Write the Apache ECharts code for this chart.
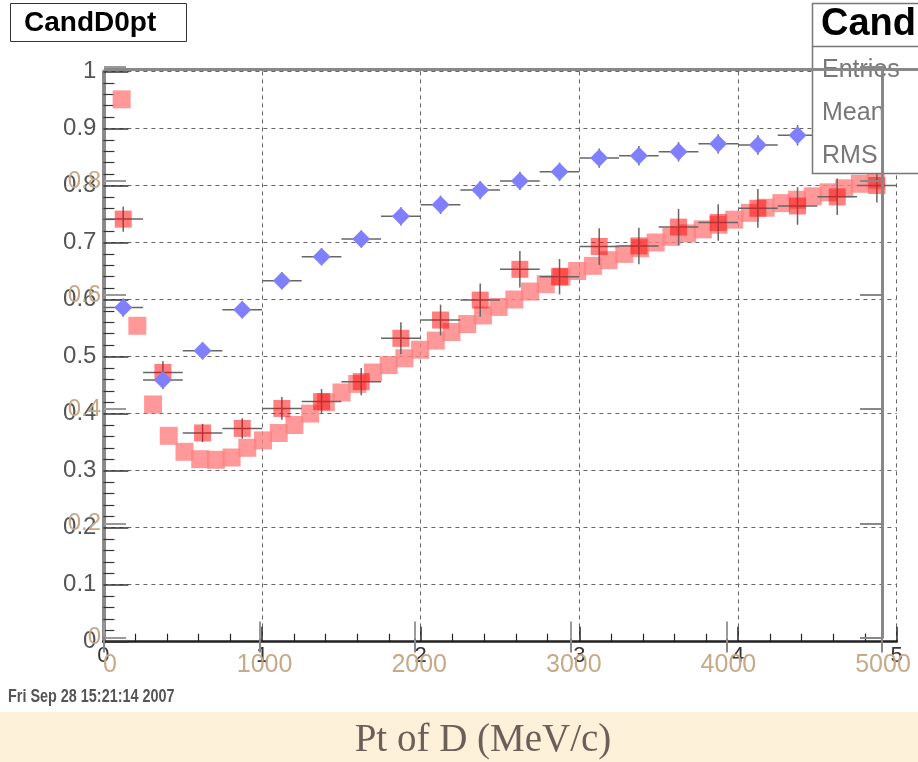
<!DOCTYPE html>
<html><head><meta charset="utf-8">
<script src="https://cdn.jsdelivr.net/npm/echarts@6/dist/echarts.min.js"></script>
<style>html,body{margin:0;padding:0;background:#fff}#c{width:918px;height:762px}</style>
</head><body><div id="c"></div>
<script>
// ---- data ----
const binCenters = [125,375,625,875,1125,1375,1625,1875,2125,2375,2625,2875,3125,3375,3625,3875,4125,4375,4625,4875];
const binHalfWidth = 125;
const blueY   = [0.586,0.459,0.510,0.582,0.633,0.675,0.706,0.746,0.766,0.792,0.808,0.824,0.848,0.852,0.859,0.873,0.871,0.888,0.893,0.900];
const blueErr = [0.016,0.016,0.015,0.015,0.015,0.015,0.015,0.016,0.016,0.016,0.016,0.016,0.017,0.017,0.017,0.017,0.017,0.018,0.018,0.018];
const redY    = [0.741,0.472,0.366,0.374,0.409,0.421,0.456,0.532,0.564,0.599,0.653,0.640,0.693,0.694,0.727,0.735,0.760,0.764,0.780,0.800];
const redErr  = [0.022,0.020,0.016,0.018,0.020,0.022,0.024,0.028,0.027,0.029,0.032,0.031,0.032,0.032,0.032,0.032,0.034,0.033,0.032,0.030];
const fineX = [115,214,313,412,511,610,709,808,907,1006,1105,1204,1303,1402,1501,1600,1699,1798,1897,1996,2095,2194,2293,2392,2491,2590,2689,2788,2887,2986,3085,3184,3283,3382,3481,3580,3679,3778,3877,3976,4075,4174,4273,4372,4471,4570,4669,4768,4867];
const fineY = [0.951,0.554,0.416,0.361,0.333,0.320,0.319,0.323,0.340,0.353,0.366,0.380,0.400,0.420,0.437,0.452,0.472,0.485,0.497,0.512,0.528,0.543,0.557,0.572,0.587,0.600,0.614,0.627,0.640,0.650,0.659,0.669,0.680,0.690,0.700,0.710,0.716,0.723,0.731,0.740,0.752,0.761,0.769,0.775,0.781,0.788,0.795,0.803,0.810];
const xTickLabels = ['0','1','2','3','4','5'];
const titleText = 'CandD0pt';
const statTitle = 'Cand';
const statRows = ['Entries','Mean','RMS'];
const dateText = 'Fri Sep 28 15:21:14 2007';
const xTitle = 'Pt of D (MeV/c)';

// ---- chart ----
const chart = echarts.init(document.getElementById('c'), null, {renderer:'canvas'});
const tan = '#c6aa88';
const ghostLabel = {color: tan, textShadowColor:'rgba(120,165,230,0.7)', textShadowOffsetX:1.5, textShadowBlur:0};
const errColor = '#666666';

function makeErrRender(markerKind){
  return function(params, api){
    const x = api.value(0), y = api.value(1), e = api.value(2);
    const c = api.coord([x, y]);
    const pL = api.coord([x - binHalfWidth, y]), pR = api.coord([x + binHalfWidth, y]);
    const pT = api.coord([x, y + e]), pB = api.coord([x, y - e]);
    const children = [
      {type:'line', shape:{x1:pL[0],y1:pL[1],x2:pR[0],y2:pR[1]}, style:{stroke:errColor,lineWidth:1.5}},
      {type:'line', shape:{x1:pT[0],y1:pT[1],x2:pB[0],y2:pB[1]}, style:{stroke:errColor,lineWidth:1.5}}
    ];
    if (markerKind === 'diamond') {
      const h = 9;
      children.push({type:'polygon', shape:{points:[[c[0],c[1]-h],[c[0]+h,c[1]],[c[0],c[1]+h],[c[0]-h,c[1]]]},
        style:{fill:'#8080ff'}});
    } else {
      const s = 8.5;
      children.push({type:'rect', shape:{x:c[0]-s, y:c[1]-s, width:2*s, height:2*s},
        style:{fill:'rgba(255,0,0,0.5)'}});
    }
    return {type:'group', children};
  };
}

const option = {
  animation:false,
  backgroundColor:'#ffffff',
  grid:[
    {left:103.4, top:71.4, width:793.3, height:570.3, outerBoundsMode:'none'},
    {left:104, top:66.9, width:778, height:570.5, outerBoundsMode:'none'},
    {left:110, top:71.4, width:773, height:570.3, outerBoundsMode:'none'}
  ],
  xAxis:[
    {gridIndex:0, type:'value', min:0, max:5000, interval:1000, position:'bottom',
     axisLine:{show:true, onZero:false, lineStyle:{color:'#222', width:2.5}},
     axisTick:{show:true, inside:true, length:15, lineStyle:{color:'#222', width:1.5}},
     minorTick:{show:true, splitNumber:5, length:8, lineStyle:{color:'#222', width:1.2}},
     axisLabel:{show:true, margin:3, fontSize:22, fontFamily:'Liberation Sans', color:'#333',
       formatter:(v)=>xTickLabels[Math.round(v/1000)]},
     splitLine:{show:true, lineStyle:{color:'#666', type:[4,4], width:1}}},
    {gridIndex:1, type:'value', min:0, max:5, interval:1, position:'bottom',
     axisLine:{show:false}, axisTick:{show:true, inside:true, length:16, lineStyle:{color:'#9a9a9a', width:2}},
     axisLabel:{show:false}, splitLine:{show:false}},
    {gridIndex:1, type:'value', min:0, max:5, interval:1, position:'top', z:60,
     axisLine:{show:false}, axisTick:{show:true, inside:true, length:15, lineStyle:{color:'#888', width:2}},
     axisLabel:{show:false}, splitLine:{show:false}},
    {gridIndex:2, type:'value', min:0, max:5000, interval:1000, position:'bottom',
     axisLine:{show:false}, axisTick:{show:false},
     axisLabel:Object.assign({show:true, margin:11, fontSize:25, fontFamily:'Liberation Sans',
       formatter:(v)=>String(v)}, ghostLabel),
     splitLine:{show:false}}
  ],
  yAxis:[
    {gridIndex:0, type:'value', min:0, max:1, interval:0.1,
     axisLine:{show:true, onZero:false, lineStyle:{color:'#8a8a8a', width:4}},
     axisTick:{show:true, inside:true, length:25, lineStyle:{color:'#333', width:1.5}},
     minorTick:{show:true, splitNumber:5, length:11, lineStyle:{color:'#333', width:1.2}},
     axisLabel:{show:true, margin:7, fontSize:24, fontFamily:'Liberation Sans', color:'#555',
       formatter:(v)=>String(+v.toFixed(1))},
     splitLine:{show:true, lineStyle:{color:'#666', type:[4,4], width:1}}},
    {gridIndex:1, type:'value', min:0, max:1, interval:0.2, position:'left',
     axisLine:{show:false}, axisTick:{show:true, inside:true, length:22, lineStyle:{color:'#9a9a9a', width:2}},
     axisLabel:Object.assign({show:true, margin:3, fontSize:24, fontFamily:'Liberation Sans',
       formatter:(v)=> v>=0.99 ? '' : String(+v.toFixed(1))}, ghostLabel),
     splitLine:{show:false}},
    {gridIndex:1, type:'value', min:0, max:1, interval:0.2, position:'right', z:60,
     axisLine:{show:true, onZero:false, lineStyle:{color:'#888', width:3}},
     axisTick:{show:true, inside:true, length:22, lineStyle:{color:'#888', width:2}},
     axisLabel:{show:false}, splitLine:{show:false}},
    {gridIndex:2, type:'value', min:0, max:1, show:false}
  ],
  series:[
    {type:'scatter', xAxisIndex:0, yAxisIndex:0, z:2, silent:true,
     symbol:'rect', symbolSize:18, itemStyle:{color:'#ff8080'},
     data: fineX.map((x,i)=>[x, fineY[i]])},
    {type:'custom', xAxisIndex:0, yAxisIndex:0, z:4, silent:true, renderItem:makeErrRender('square'),
     data: binCenters.map((x,i)=>[x, redY[i], redErr[i]])},
    {type:'custom', xAxisIndex:0, yAxisIndex:0, z:6, silent:true, renderItem:makeErrRender('diamond'),
     data: binCenters.map((x,i)=>[x, blueY[i], blueErr[i]])}
  ],
  graphic:[
    {type:'rect', z:1, shape:{x:0, y:712, width:918, height:50}, style:{fill:'#fdf1da'}},
    {type:'text', z:2, x:483, y:741, style:{text:xTitle, fontFamily:'Liberation Serif', fontSize:39, fill:'#6a6058', align:'center', verticalAlign:'middle'}},
    {type:'text', z:2, x:8, y:697, scaleX:0.8, style:{text:dateText, fontFamily:'Liberation Sans', fontWeight:'bold', fontSize:18, fill:'#555', align:'left', verticalAlign:'middle'}},
    {type:'rect', z:50, shape:{x:10.5, y:3.5, width:176, height:38}, style:{fill:'#fff', stroke:'#333', lineWidth:1}},
    {type:'text', z:51, x:24, y:23, style:{text:titleText, fontFamily:'Liberation Sans', fontWeight:'bold', fontSize:28, fill:'#000', align:'left', verticalAlign:'middle'}},
    {type:'rect', z:50, shape:{x:812.5, y:3.5, width:120, height:170}, style:{fill:'#fff', stroke:'#777', lineWidth:1.5}},
    {type:'line', z:51, shape:{x1:812, y1:46.5, x2:918, y2:46.5}, style:{stroke:'#777', lineWidth:1.5}},
    {type:'text', z:51, x:821, y:25, style:{text:statTitle, fontFamily:'Liberation Sans', fontWeight:'bold', fontSize:38, fill:'#000', align:'left', verticalAlign:'middle'}},
    {type:'text', z:51, x:822, y:70, style:{text:statRows[0], fontFamily:'Liberation Sans', fontSize:25, fill:'#777', align:'left', verticalAlign:'middle'}},
    {type:'text', z:51, x:822, y:113, style:{text:statRows[1], fontFamily:'Liberation Sans', fontSize:25, fill:'#777', align:'left', verticalAlign:'middle'}},
    {type:'text', z:51, x:822, y:156, style:{text:statRows[2], fontFamily:'Liberation Sans', fontSize:25, fill:'#777', align:'left', verticalAlign:'middle'}},
    {type:'line', z:60, shape:{x1:104, y1:69.5, x2:918, y2:69.5}, style:{stroke:'#888', lineWidth:3}}
  ]
};
chart.setOption(option);
</script>
</body></html>
